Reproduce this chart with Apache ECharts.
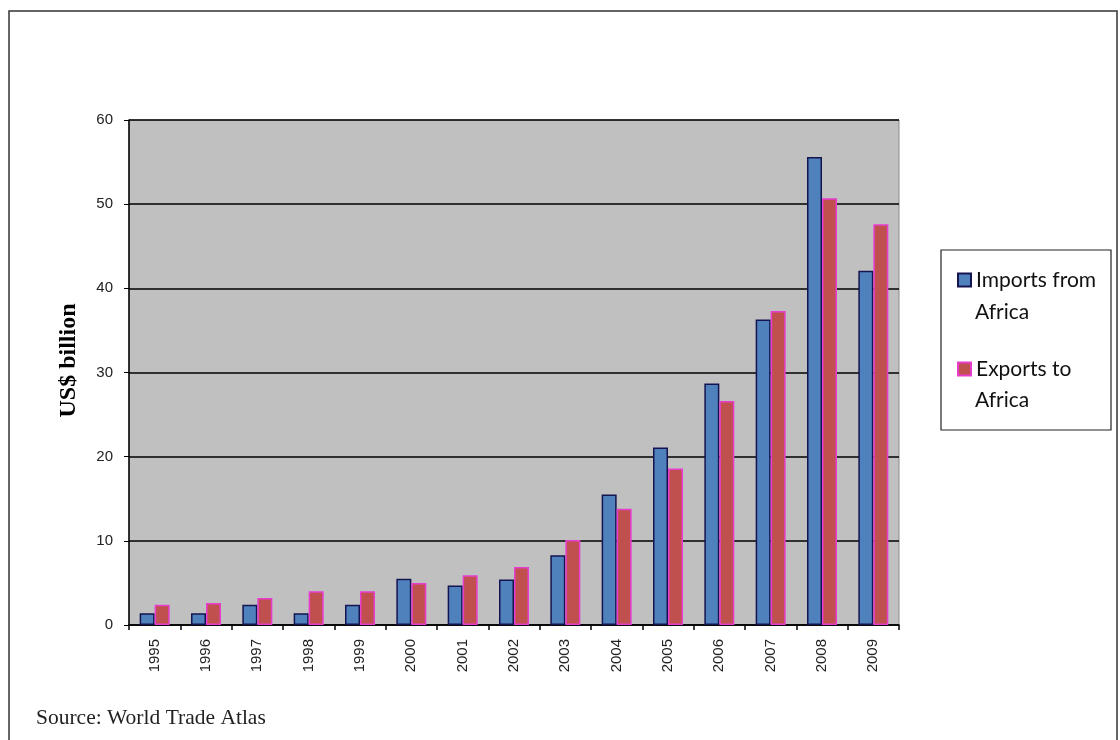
<!DOCTYPE html>
<html>
<head>
<meta charset="utf-8">
<script src="https://cdn.jsdelivr.net/npm/echarts@6/dist/echarts.min.js"></script>
<style>
  html, body { margin: 0; padding: 0; background: #fff; }
  #chart { width: 1120px; height: 740px; }
</style>
</head>
<body>
<div id="chart"></div>
<script>
const years = ["1995", "1996", "1997", "1998", "1999", "2000", "2001", "2002",
  "2003", "2004", "2005", "2006", "2007", "2008", "2009"];
const importsFromAfrica = [1.4, 1.4, 2.4, 1.4, 2.4, 5.5, 4.7, 5.4, 8.3, 15.5, 21.1, 28.7, 36.3, 55.6, 42.1];
const exportsToAfrica = [2.4, 2.6, 3.2, 4.0, 4.0, 5.0, 5.9, 6.9, 10.1, 13.8, 18.6, 26.6, 37.3, 50.7, 47.6];
const yTicks = [0, 10, 20, 30, 40, 50, 60];
// legend text: first line goes in the legend, second line below it
const legendFirst = ["Imports from", "Exports to"];
const legendSecond = ["Africa", "Africa"];

const chart = echarts.init(document.getElementById("chart"));

const legendFont = "21px Lato";

chart.setOption({
  animation: false,
  backgroundColor: "#fff",
  grid: {
    left: 129,
    right: 221,
    top: 120,
    bottom: 115,
    show: true,
    backgroundColor: "#c0c0c0",
    borderColor: "#8a8a8a",
    borderWidth: 1
  },
  legend: {
    orient: "vertical",
    left: 952,
    top: 263,
    icon: "rect",
    itemWidth: 13,
    itemHeight: 13,
    itemGap: 65,
    textStyle: {
      fontFamily: "Lato",
      fontSize: 21,
      lineHeight: 24,
      color: "#111"
    },
    formatter: (name) => name === "Imports" ? legendFirst[0] : legendFirst[1]
  },
  xAxis: {
    type: "category",
    data: years,
    axisLine: { lineStyle: { color: "#000", width: 1.5 } },
    axisTick: { show: true, length: 5, lineStyle: { color: "#000", width: 1.5 } },
    axisLabel: {
      rotate: 90,
      fontFamily: "Liberation Sans",
      fontSize: 15,
      color: "#222",
      margin: 14
    }
  },
  yAxis: {
    type: "value",
    min: yTicks[0],
    max: yTicks[yTicks.length - 1],
    interval: 10,
    name: "US$ billion",
    nameLocation: "middle",
    nameGap: 48,
    nameTextStyle: {
      fontFamily: "Liberation Serif",
      fontWeight: "bold",
      fontSize: 24,
      color: "#000",
      padding: [0, 0, 0, 24]
    },
    axisLine: { show: true, lineStyle: { color: "#000", width: 1.5 } },
    axisTick: { show: true, length: 5, lineStyle: { color: "#000" } },
    axisLabel: {
      fontFamily: "Liberation Sans",
      fontSize: 15,
      color: "#222",
      margin: 16
    },
    splitLine: { lineStyle: { color: "#000", width: 1.5 } }
  },
  series: [
    {
      name: "Imports",
      type: "bar",
      data: importsFromAfrica,
      barWidth: 15,
      barGap: "0%",
      itemStyle: { color: "#4f81bd", borderColor: "#141450", borderWidth: 1.5 }
    },
    {
      name: "Exports",
      type: "bar",
      data: exportsToAfrica,
      barWidth: 15,
      itemStyle: { color: "#c0504d", borderColor: "#e83ccf", borderWidth: 1.5 }
    }
  ],
  graphic: [
    {
      type: "rect",
      shape: { x: 9, y: 11, width: 1108, height: 740 },
      style: { fill: "none", stroke: "#333", lineWidth: 1.5 },
      silent: true
    },
    {
      type: "rect",
      shape: { x: 941, y: 250, width: 170, height: 180 },
      style: { fill: "none", stroke: "#222", lineWidth: 1.2 },
      silent: true
    },
    {
      type: "text",
      x: 975,
      y: 312,
      style: { text: legendSecond[0], font: legendFont, fill: "#111", verticalAlign: "middle" }
    },
    {
      type: "text",
      x: 975,
      y: 400,
      style: { text: legendSecond[1], font: legendFont, fill: "#111", verticalAlign: "middle" }
    },
    {
      type: "text",
      left: 36,
      top: 707,
      style: {
        text: "Source: World Trade Atlas",
        font: "21.5px 'Liberation Serif'",
        fill: "#222"
      }
    }
  ]
});
</script>
</body>
</html>
